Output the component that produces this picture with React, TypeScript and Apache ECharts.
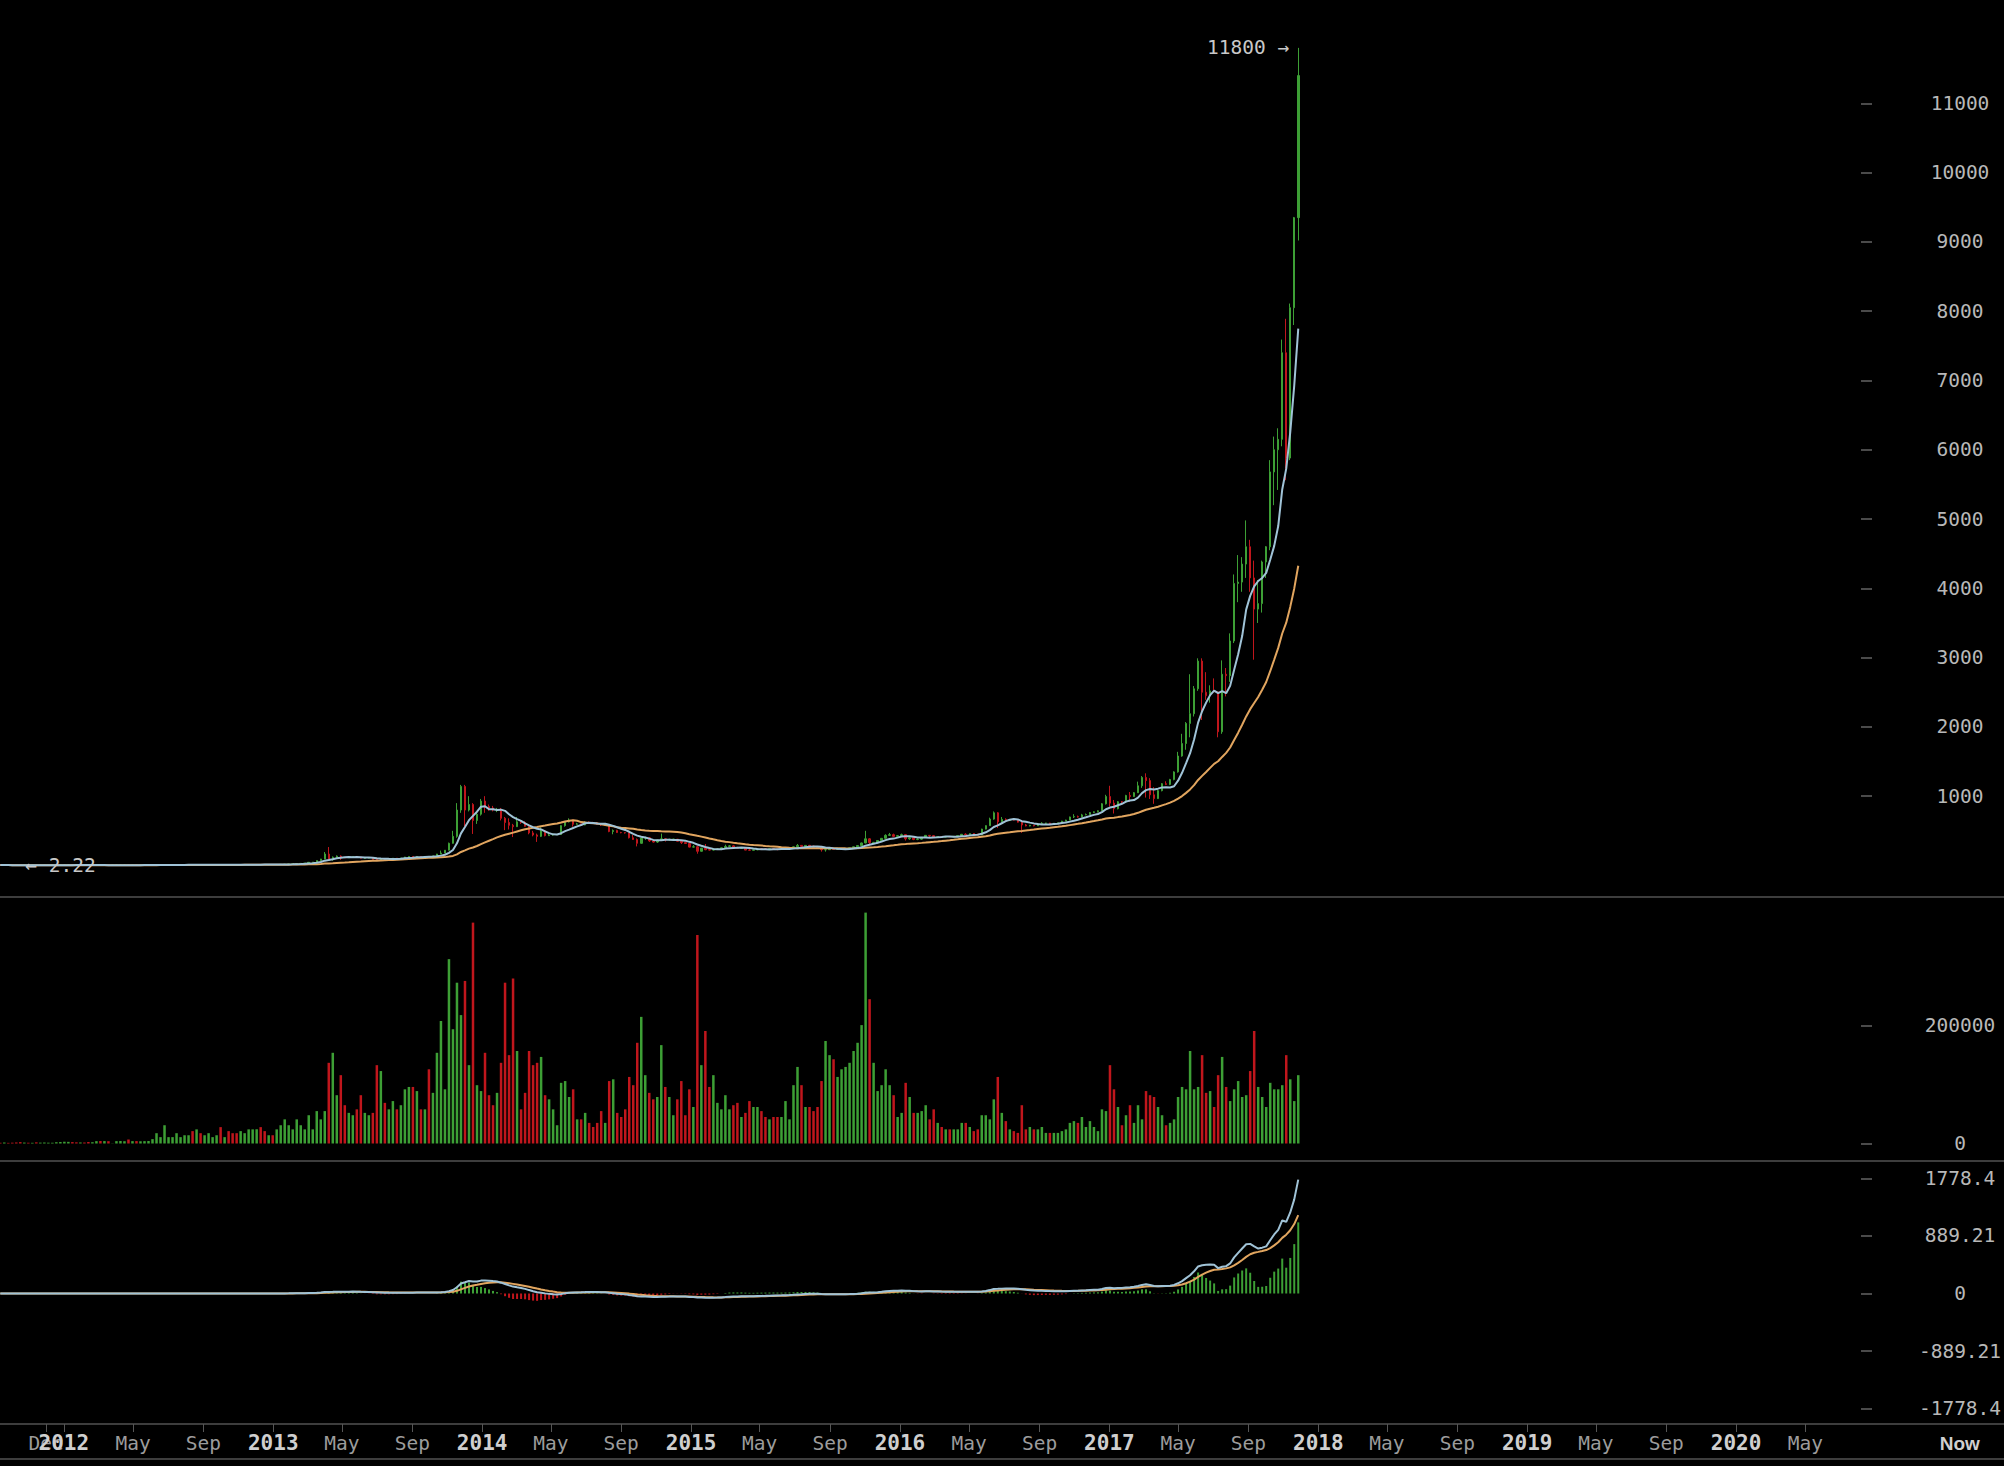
import React, { useEffect, useRef } from "react";
import * as echarts from "echarts";

// ---------- DATA (weekly) ----------
const FIRST_WEEK = "2011-09-12";
const FIRST_OPEN = 5.6;

// weekly close
const CLOSE = [
  // 2011
  5.2, 5.4, 4.9, 4.4, 3.6, 3.2, 3.3, 3.0, 3.1, 2.35, 2.5, 2.95, 3.0, 3.2, 3.95, 5.1,
  // 2012
  6.8, 6.9, 6.3, 5.8, 5.95, 5.7, 4.4, 4.9, 4.95, 4.9, 5.3, 4.65, 4.9, 4.95, 4.97, 5.1, 5.0, 5.1, 4.95, 5.1,
  5.12, 5.28, 5.6, 6.3, 6.4, 6.7, 6.8, 7.6, 8.7, 8.9, 10.9, 11.6, 8.6, 10.2, 10.0, 11.0, 11.8, 12.2, 12.4, 12.0,
  12.05, 11.7, 10.7, 10.6, 10.9, 11.8, 12.3, 12.6, 13.5, 13.4, 13.3, 13.5, 13.4,
  // 2013
  14.2, 15.8, 17.5, 20.4, 23.3, 27, 30, 34, 46, 47, 71, 93, 165, 91, 119, 135, 112, 111, 123, 130,
  121, 105, 108, 109, 88, 77, 97, 93, 95, 105, 102, 109, 122, 130, 121, 130, 126, 130, 126, 138,
  165, 180, 220, 320, 420, 800, 1140, 800, 880, 650, 740, 930,
  // 2014
  850, 830, 800, 810, 680, 620, 580, 560, 630, 620, 565, 470, 440, 420, 500, 430, 440, 445, 447, 575,
  630, 655, 595, 600, 585, 625, 620, 617, 595, 585, 590, 490, 505, 475, 474, 470, 400, 375, 320, 395,
  400, 355, 338, 366, 385, 368, 378, 380, 350, 330, 317, 265,
  // 2015
  270, 205, 250, 228, 222, 235, 238, 255, 275, 283, 260, 248, 254, 222, 220, 226, 240, 239, 237, 240,
  237, 230, 233, 243, 249, 270, 290, 275, 290, 280, 262, 258, 227, 228, 240, 232, 233, 237, 240, 255,
  270, 287, 325, 385, 330, 333, 360, 392, 435, 445, 420, 430,
  // 2016
  445, 385, 400, 375, 380, 405, 435, 430, 405, 415, 410, 416, 415, 420, 430, 450, 445, 460, 455, 440,
  525, 575, 670, 760, 630, 665, 650, 665, 655, 625, 585, 570, 580, 572, 605, 610, 612, 600, 610, 615,
  640, 655, 700, 705, 700, 730, 735, 765, 775, 790, 890, 995,
  // 2017
  900, 820, 920, 915, 1010, 995, 1050, 1150, 1270, 1225, 1020, 965, 1080, 1180, 1170, 1240, 1350, 1580, 1760, 2050,
  2190, 2550, 2950, 2500, 2450, 2520, 2505, 1930, 2760, 2740, 3240, 4070, 4090, 4350, 4600, 4150, 3700, 3780, 4380, 4600,
  5680, 6000, 6150, 7400, 5880, 8050, 9350, 11400,
];

// weekly high
const HIGH = [
  6.0, 6.1, 5.6, 5.1, 4.5, 4.1, 3.6, 3.5, 3.2, 3.1, 2.6, 3.1, 3.2, 3.3, 4.1, 5.3,
  7.1, 7.2, 7.0, 6.5, 6.3, 6.0, 5.7, 5.0, 5.1, 5.1, 5.4, 5.3, 4.95, 5.0, 5.0, 5.2, 5.2, 5.2, 5.1, 5.15,
  5.15, 5.3, 5.7, 6.5, 6.6, 6.9, 6.9, 7.7, 8.9, 9.1, 11.0, 11.8, 15.4, 10.5, 10.8, 11.1, 11.9, 12.4, 12.5, 12.6,
  12.2, 12.1, 11.8, 10.9, 11.0, 11.9, 12.4, 12.7, 13.6, 13.7, 13.5, 13.6, 13.6,
  14.3, 16.0, 17.7, 20.7, 23.5, 27.5, 30.5, 34.5, 47, 48.5, 72, 95, 194, 266, 130, 145, 146, 120, 125, 133,
  131, 123, 112, 112, 110, 90, 99, 99, 97, 107, 108, 110, 124, 132, 132, 133, 131, 132, 133, 140,
  167, 215, 222, 330, 500, 900, 1163, 1163, 1000, 900, 780, 960,
  1000, 880, 860, 830, 830, 700, 680, 600, 700, 650, 640, 585, 500, 460, 550, 510, 460, 460, 452, 580,
  630, 680, 660, 615, 605, 640, 635, 630, 625, 600, 595, 592, 520, 515, 485, 480, 475, 440, 390, 400,
  415, 405, 365, 370, 460, 395, 385, 385, 382, 355, 335, 320,
  295, 285, 255, 310, 245, 240, 245, 260, 300, 295, 290, 270, 260, 260, 237, 230, 242, 246, 245, 242,
  242, 238, 236, 250, 250, 275, 310, 295, 292, 297, 285, 270, 262, 235, 242, 245, 235, 240, 242, 256,
  272, 290, 330, 500, 395, 340, 365, 395, 450, 470, 460, 440,
  460, 450, 425, 405, 390, 408, 440, 440, 440, 420, 420, 418, 420, 422, 432, 455, 465, 462, 462, 456,
  530, 580, 690, 780, 770, 700, 680, 670, 675, 660, 630, 600, 585, 585, 610, 625, 615, 615, 612, 618,
  645, 660, 705, 740, 720, 745, 750, 770, 780, 795, 900, 1020,
  1150, 945, 930, 930, 1020, 1060, 1060, 1210, 1290, 1330, 1260, 1130, 1090, 1190, 1215, 1250, 1360, 1640, 1900, 2070,
  2760, 2590, 2990, 2990, 2790, 2600, 2700, 2510, 2960, 2850, 3350, 4200, 4480, 4450, 4980, 4700, 4400, 4120, 4400, 4610,
  5850, 6190, 6310, 7590, 7890, 8110, 9360, 11800,
];

// weekly low
const LOW = [
  4.9, 4.8, 4.7, 4.2, 3.5, 2.22, 2.9, 2.9, 2.8, 2.3, 2.3, 2.45, 2.8, 2.9, 3.1, 3.9,
  5.0, 6.2, 6.0, 5.6, 5.6, 5.4, 4.2, 4.3, 4.7, 4.7, 4.8, 4.6, 4.6, 4.8, 4.8, 4.9, 4.9, 4.9, 4.85, 4.9,
  5.0, 5.05, 5.2, 5.5, 6.1, 6.3, 6.5, 6.7, 7.5, 8.3, 8.8, 10.7, 7.1, 8.4, 9.8, 9.9, 10.9, 11.7, 12.0, 11.8,
  11.8, 11.5, 10.5, 10.4, 10.5, 10.8, 11.6, 12.1, 12.5, 13.2, 13.0, 13.2, 13.2,
  13.3, 14.0, 15.5, 17.3, 20.1, 23.0, 26.5, 29.5, 33.5, 38, 46, 69, 92, 70, 68, 116, 80, 106, 110, 120,
  118, 100, 99, 104, 86, 66, 76, 86, 88, 93, 99, 101, 108, 118, 117, 120, 122, 124, 110, 125,
  137, 160, 178, 218, 315, 400, 760, 560, 780, 455, 600, 720,
  760, 790, 780, 770, 650, 510, 520, 410, 555, 600, 560, 450, 420, 340, 410, 420, 425, 430, 438, 445,
  560, 620, 560, 590, 570, 580, 610, 600, 590, 570, 575, 480, 450, 470, 465, 460, 390, 370, 275, 315,
  370, 340, 330, 325, 360, 345, 360, 360, 345, 310, 310, 260,
  260, 170, 200, 220, 215, 215, 230, 232, 250, 270, 255, 240, 240, 220, 216, 218, 220, 233, 232, 233,
  233, 220, 226, 230, 240, 248, 265, 270, 272, 275, 255, 255, 200, 200, 225, 225, 225, 225, 233, 238,
  250, 265, 280, 320, 300, 315, 315, 355, 385, 430, 410, 415,
  425, 360, 370, 365, 365, 370, 400, 410, 400, 400, 405, 405, 410, 410, 418, 428, 440, 440, 450, 435,
  438, 520, 570, 660, 540, 625, 630, 640, 650, 620, 470, 565, 565, 565, 570, 600, 600, 595, 598, 605,
  612, 635, 650, 685, 690, 695, 725, 730, 755, 765, 785, 880,
  850, 750, 810, 890, 910, 920, 990, 1045, 1120, 980, 960, 890, 960, 1070, 1160, 1160, 1230, 1340, 1570, 1670,
  1850, 2150, 2520, 2100, 2390, 2350, 2500, 1850, 1900, 2440, 2650, 3210, 3800, 3950, 4150, 3950, 2970, 3500, 3650, 4150,
  4550, 5200, 5420, 6050, 5560, 5850, 7800, 9020,
];

// weekly volume (BTC)
const VOLUME = [
  1200, 1500, 1100, 1400, 1800, 2400, 1600, 1300, 1200, 2000, 1500, 1700, 1400, 1300, 2200, 2600,
  3000, 2800, 2400, 2000, 1800, 1700, 2600, 2200, 4000, 4200, 4100, 3900, 300, 4000, 4200, 3900, 7000, 4000, 4100, 3800,
  4000, 4200, 7400, 17500, 10800, 31000, 10800, 10800, 17500, 10800, 14000, 14000, 21000, 24000, 17500, 14000, 17500, 10800, 14000, 27800,
  10800, 21000, 17500, 17500, 21000, 17500, 24000, 24000, 24000, 27800, 21000, 14000, 14000,
  24000, 31000, 41000, 31000, 24000, 41000, 31000, 24000, 48000, 24000, 55000, 41000, 55000, 137000, 154000, 82000, 116000, 65000, 52000, 48000,
  58000, 82000, 52000, 48000, 52000, 133000, 123000, 69000, 58000, 72000, 58000, 65000, 92000, 96000, 96000, 89000, 58000, 58000, 126000, 86000,
  154000, 208000, 92000, 313000, 194000, 273000, 218000, 276000, 133000, 375000, 99000, 89000,
  154000, 82000, 65000, 86000, 137000, 273000, 150000, 280000, 157000, 58000, 86000, 157000, 133000, 137000, 147000, 82000, 75000, 58000, 31000, 103000,
  106000, 79000, 92000, 41000, 41000, 52000, 35000, 28000, 35000, 55000, 35000, 106000, 109000, 52000, 45000, 58000, 113000, 99000, 171000, 215000,
  116000, 86000, 75000, 79000, 167000, 96000, 79000, 48000, 75000, 106000, 48000, 92000,
  62000, 354000, 133000, 191000, 96000, 116000, 69000, 58000, 82000, 58000, 65000, 69000, 45000, 52000, 72000, 62000, 62000, 55000, 45000, 41000,
  45000, 45000, 45000, 72000, 41000, 99000, 130000, 99000, 62000, 62000, 55000, 62000, 106000, 174000, 150000, 143000, 113000, 126000, 130000, 137000,
  157000, 171000, 201000, 392000, 245000, 137000, 89000, 99000, 126000, 99000, 82000, 45000,
  52000, 103000, 79000, 52000, 52000, 55000, 65000, 41000, 58000, 35000, 28000, 24000, 24000, 24000, 24000, 35000, 35000, 28000, 21000, 24000,
  48000, 48000, 41000, 75000, 113000, 52000, 38000, 24000, 21000, 18000, 65000, 24000, 28000, 24000, 24000, 28000, 18000, 18000, 18000, 18000,
  21000, 24000, 35000, 38000, 35000, 45000, 28000, 38000, 28000, 21000, 58000, 55000,
  133000, 92000, 62000, 31000, 48000, 65000, 35000, 65000, 41000, 89000, 82000, 79000, 62000, 48000, 31000, 35000, 41000, 79000, 96000, 92000,
  157000, 92000, 96000, 150000, 86000, 89000, 62000, 116000, 147000, 96000, 72000, 92000, 106000, 79000, 82000, 123000, 191000, 96000, 79000, 62000,
  103000, 92000, 92000, 99000, 150000, 109000, 72000, 116000,
];

// axis ticks / labels
const PRICE_TICKS = [1000, 2000, 3000, 4000, 5000, 6000, 7000, 8000, 9000, 10000, 11000];
const VOLUME_TICKS = [0, 200000];
const MACD_TICKS = [-1778.4, -889.21, 0, 889.21, 1778.4];
const TIME_TICKS = [
  "2011-12-01",
  "2012-01-01", "2012-05-01", "2012-09-01",
  "2013-01-01", "2013-05-01", "2013-09-01",
  "2014-01-01", "2014-05-01", "2014-09-01",
  "2015-01-01", "2015-05-01", "2015-09-01",
  "2016-01-01", "2016-05-01", "2016-09-01",
  "2017-01-01", "2017-05-01", "2017-09-01",
  "2018-01-01", "2018-05-01", "2018-09-01",
  "2019-01-01", "2019-05-01", "2019-09-01",
  "2020-01-01", "2020-05-01",
];
const NOW_TICK = "2021-01-26";
const MONTHS = ["Jan", "Feb", "Mar", "Apr", "May", "Jun", "Jul", "Aug", "Sep", "Oct", "Nov", "Dec"];

// visible time window
const VIEW_START = "2011-09-11T12:30:00Z";
const VIEW_END = "2021-04-13T04:00:00Z";

const MA_FAST = 7;
const MA_SLOW = 30;
const MACD_SHORT = 12;
const MACD_LONG = 26;
const MACD_SIGNAL = 9;

// ---------- STYLE ----------
const GREEN = "#3d9f35";
const RED = "#c0161c";
const BLUE = "#a0c3d7";
const ORANGE = "#e1a55f";
const SEP = "#3d3d3d";
const LABEL = "#b8b8b8";
const MONO = "'DejaVu Sans Mono', monospace";

function sma(arr: number[], n: number): number[] {
  return arr.map((_, i) => {
    const s = Math.max(0, i - n + 1);
    let sum = 0;
    for (let k = s; k <= i; k++) sum += arr[k];
    return sum / (i - s + 1);
  });
}
function ema(arr: number[], n: number): number[] {
  const a = 2 / (n + 1);
  const out: number[] = [];
  arr.forEach((v, i) => out.push(i === 0 ? v : a * v + (1 - a) * out[i - 1]));
  return out;
}

export default function App() {
  const ref = useRef<HTMLDivElement>(null);

  useEffect(() => {
    if (!ref.current) return;
    const chart = echarts.init(ref.current, undefined, { renderer: "svg" });

    const DAY = 86400000;
    const t0 = Date.parse(FIRST_WEEK + "T00:00:00Z");
    const TIMES = CLOSE.map((_, i) => t0 + i * 7 * DAY);
    const OPEN = CLOSE.map((_, i) => (i === 0 ? FIRST_OPEN : CLOSE[i - 1]));

    const maFast = sma(CLOSE, MA_FAST);
    const maSlow = sma(CLOSE, MA_SLOW);
    const e1 = ema(CLOSE, MACD_SHORT);
    const e2 = ema(CLOSE, MACD_LONG);
    const dif = e1.map((v, i) => v - e2[i]);
    const dea = ema(dif, MACD_SIGNAL);
    const hist = dif.map((v, i) => 2 * (v - dea[i]));

    const tickMs = TIME_TICKS.map((s) => Date.parse(s + "T00:00:00Z"));
    const nowMs = Date.parse(NOW_TICK + "T00:00:00Z");
    const xMin = Date.parse(VIEW_START);
    const xMax = Date.parse(VIEW_END);

    const baseX = (gridIndex: number) => ({
      type: "value" as const,
      gridIndex,
      min: xMin,
      max: xMax,
      axisLine: { show: true, onZero: false, lineStyle: { color: SEP, width: 2 } },
      axisTick: { show: false },
      axisLabel: { show: false },
      splitLine: { show: false },
    });

    const baseY = (gridIndex: number, min: number, max: number, ticks: number[]) => ({
      type: "value" as const,
      gridIndex,
      min,
      max,
      position: "right" as const,
      offset: -132,
      axisLine: { show: false },
      splitLine: { show: false },
      axisTick: {
        show: true,
        inside: true,
        length: 11,
        customValues: ticks,
        lineStyle: { color: "#4a4a4a", width: 2 },
      },
      axisLabel: {
        show: true,
        customValues: ticks,
        showMinLabel: true,
        showMaxLabel: true,
        align: "center",
        margin: 88,
        color: LABEL,
        fontFamily: MONO,
        fontSize: 19.5,
        formatter: (v: number) => String(v),
      },
    });

    const option: any = {
      animation: false,
      backgroundColor: "#000",
      grid: [
        { left: 0, right: 0, top: 0, height: 897, containLabel: false, outerBoundsMode: "none" },
        { left: 0, right: 0, top: 897, height: 264, containLabel: false, outerBoundsMode: "none" },
        { left: 0, right: 0, top: 1161, height: 263, containLabel: false, outerBoundsMode: "none" },
      ],
      xAxis: [
        baseX(0),
        baseX(1),
        {
          ...baseX(2),
          axisTick: {
            show: true,
            customValues: tickMs,
            length: 8,
            lineStyle: { color: "#555", width: 1 },
          },
          axisLabel: {
            show: true,
            // a blank label at the left edge keeps both "Dec" and "2012" visible
            customValues: [xMin, ...tickMs, nowMs],
            showMinLabel: true,
            showMaxLabel: true,
            margin: 9,
            hideOverlap: false,
            formatter: (v: number) => {
              if (v === xMin) return "";
              if (v === nowMs) return "{n|Now}";
              const d = new Date(v);
              const m = d.getUTCMonth();
              if (m === 0) return `{y|${d.getUTCFullYear()}}`;
              return `{m|${MONTHS[m]}}`;
            },
            rich: {
              y: { fontFamily: MONO, fontWeight: "bold", fontSize: 21, color: "#cfcfcf", lineHeight: 20 },
              m: { fontFamily: MONO, fontSize: 19.5, color: "#9c9c9c", lineHeight: 20 },
              n: { fontFamily: "'Liberation Sans', Arial, sans-serif", fontWeight: "bold", fontSize: 19, color: "#cfcfcf", lineHeight: 20 },
            },
          },
        },
      ],
      yAxis: [
        baseY(0, -455, 12491, PRICE_TICKS),
        baseY(1, -29711, 418506, VOLUME_TICKS),
        baseY(2, -2018, 2049, MACD_TICKS),
      ],
      graphic: [
        {
          type: "line",
          shape: { x1: 0, y1: 1459, x2: 2004, y2: 1459 },
          style: { stroke: SEP, lineWidth: 2 },
        },
      ],
      series: [
        {
          type: "candlestick",
          xAxisIndex: 0,
          yAxisIndex: 0,
          barWidth: 2,
          dimensions: ["time", "open", "close", "lowest", "highest"],
          encode: { x: "time", y: ["open", "close", "lowest", "highest"] },
          data: TIMES.map((t, i) => [t, OPEN[i], CLOSE[i], LOW[i], HIGH[i]]),
          itemStyle: {
            color: GREEN,
            color0: RED,
            borderColor: GREEN,
            borderColor0: RED,
            borderWidth: 1,
          },
          markPoint: {
            symbol: "circle",
            symbolSize: 2,
            itemStyle: { color: "rgba(0,0,0,0)" },
            label: { show: true, color: "#c8c8c8", fontFamily: MONO, fontSize: 19.5 },
            data: [
              {
                type: "max",
                valueDim: "highest",
                label: { position: "left", distance: 8, formatter: (p: any) => `${p.value} →` },
              },
              {
                type: "min",
                valueDim: "lowest",
                label: { position: "right", distance: 4, formatter: (p: any) => `← ${p.value}` },
              },
            ],
          },
        },
        {
          type: "line",
          xAxisIndex: 0,
          yAxisIndex: 0,
          showSymbol: false,
          data: TIMES.map((t, i) => [t, maSlow[i]]),
          lineStyle: { color: ORANGE, width: 2 },
          itemStyle: { color: ORANGE },
        },
        {
          type: "line",
          xAxisIndex: 0,
          yAxisIndex: 0,
          showSymbol: false,
          data: TIMES.map((t, i) => [t, maFast[i]]),
          lineStyle: { color: BLUE, width: 2 },
          itemStyle: { color: BLUE },
        },
        {
          type: "bar",
          xAxisIndex: 1,
          yAxisIndex: 1,
          barWidth: 2.5,
          data: TIMES.map((t, i) => ({
            value: [t, VOLUME[i]],
            itemStyle: { color: CLOSE[i] >= OPEN[i] ? GREEN : RED },
          })),
        },
        {
          type: "bar",
          xAxisIndex: 2,
          yAxisIndex: 2,
          barWidth: 2,
          data: TIMES.map((t, i) => ({
            value: [t, hist[i]],
            itemStyle: { color: hist[i] >= 0 ? GREEN : RED },
          })),
        },
        {
          type: "line",
          xAxisIndex: 2,
          yAxisIndex: 2,
          showSymbol: false,
          data: TIMES.map((t, i) => [t, dea[i]]),
          lineStyle: { color: ORANGE, width: 2 },
          itemStyle: { color: ORANGE },
        },
        {
          type: "line",
          xAxisIndex: 2,
          yAxisIndex: 2,
          showSymbol: false,
          data: TIMES.map((t, i) => [t, dif[i]]),
          lineStyle: { color: BLUE, width: 2 },
          itemStyle: { color: BLUE },
        },
      ],
    };

    chart.setOption(option);
    return () => chart.dispose();
  }, []);

  return (
    <div
      ref={ref}
      style={{ position: "absolute", left: 0, top: 0, width: 2004, height: 1466, background: "#000" }}
    />
  );
}
